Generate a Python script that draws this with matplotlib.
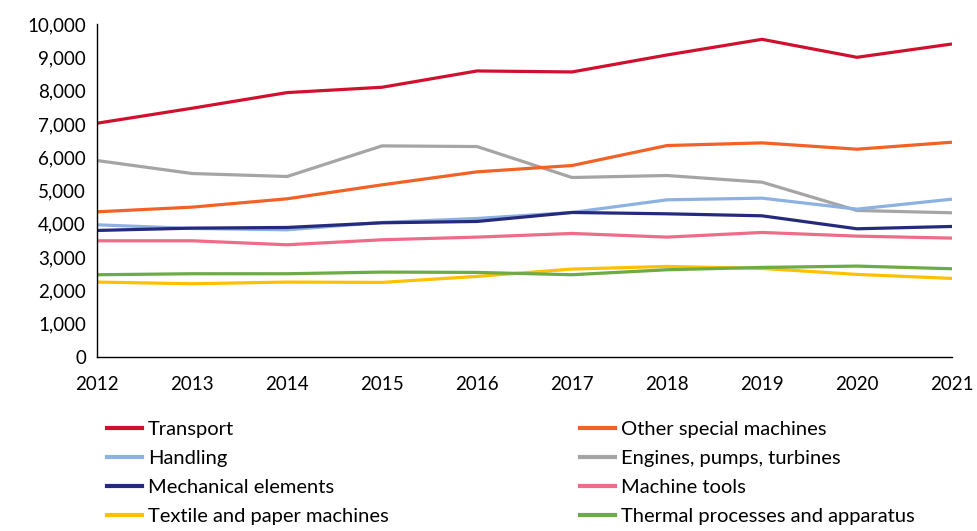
import matplotlib.pyplot as plt
from matplotlib.lines import Line2D

# --- data ---
years = [2012, 2013, 2014, 2015, 2016, 2017, 2018, 2019, 2020, 2021]

transport  = [7020, 7470, 7940, 8100, 8590, 8560, 9070, 9540, 9000, 9400]
other_spec = [4360, 4500, 4750, 5170, 5560, 5750, 6350, 6430, 6240, 6450]
handling   = [3970, 3860, 3820, 4040, 4160, 4340, 4720, 4770, 4440, 4740]
engines    = [5900, 5510, 5420, 6340, 6320, 5390, 5450, 5250, 4400, 4330]
mech_elem  = [3800, 3870, 3890, 4030, 4070, 4340, 4300, 4240, 3850, 3920]
mach_tools = [3490, 3490, 3370, 3520, 3600, 3710, 3600, 3740, 3630, 3570]
textile    = [2250, 2200, 2250, 2240, 2420, 2640, 2720, 2660, 2480, 2360]
thermal    = [2470, 2500, 2500, 2550, 2540, 2470, 2620, 2690, 2730, 2650]

series = [
    ("Transport", transport, "#D0102F"),
    ("Other special machines", other_spec, "#F26226"),
    ("Handling", handling, "#8DB1E1"),
    ("Engines, pumps, turbines", engines, "#A5A5A5"),
    ("Mechanical elements", mech_elem, "#262A7C"),
    ("Machine tools", mach_tools, "#EE6C89"),
    ("Textile and paper machines", textile, "#FFC000"),
    ("Thermal processes and apparatus", thermal, "#6DAB45"),
]

plt.rcParams['font.family'] = ['Lato', 'DejaVu Sans']

fig = plt.figure(figsize=(9.78, 5.31), dpi=100)
ax = fig.add_axes([0.0992, 0.3277, 0.8742, 0.6271])

# draw back-to-front roughly like the original
draw_order = [3, 2, 4, 5, 6, 7, 1, 0]
for i in draw_order:
    name, vals, col = series[i]
    ax.plot(years, vals, color=col, linewidth=2.3, solid_capstyle='butt')

ax.set_xlim(2012, 2021)
ax.set_ylim(0, 10000)
ax.set_yticks(range(0, 10001, 1000))
ax.set_yticklabels([f"{v:,}" for v in range(0, 10001, 1000)])
ax.set_xticks(years)
ax.tick_params(axis='both', length=0, labelsize=13.5, colors='black')
ax.tick_params(axis='x', pad=14)
ax.tick_params(axis='y', pad=8)

for s in ['top', 'right']:
    ax.spines[s].set_visible(False)
for s in ['left', 'bottom']:
    ax.spines[s].set_color('black')
    ax.spines[s].set_linewidth(1.0)

# legend: two columns, filled row by row
left_col = [series[0], series[2], series[4], series[6]]
right_col = [series[1], series[3], series[5], series[7]]

for col_items, xpos in [(left_col, 0.109), (right_col, 0.593)]:
    handles = [Line2D([], [], color=c, linewidth=3) for _, _, c in col_items]
    labels = [n for n, _, _ in col_items]
    fig.legend(handles, labels, loc='upper left', bbox_to_anchor=(xpos, 0.208),
               frameon=False, fontsize=14.5, handlelength=1.74, handletextpad=0.3,
               labelspacing=0.6, borderaxespad=0, borderpad=0)

fig.savefig("out.png", dpi=100)
